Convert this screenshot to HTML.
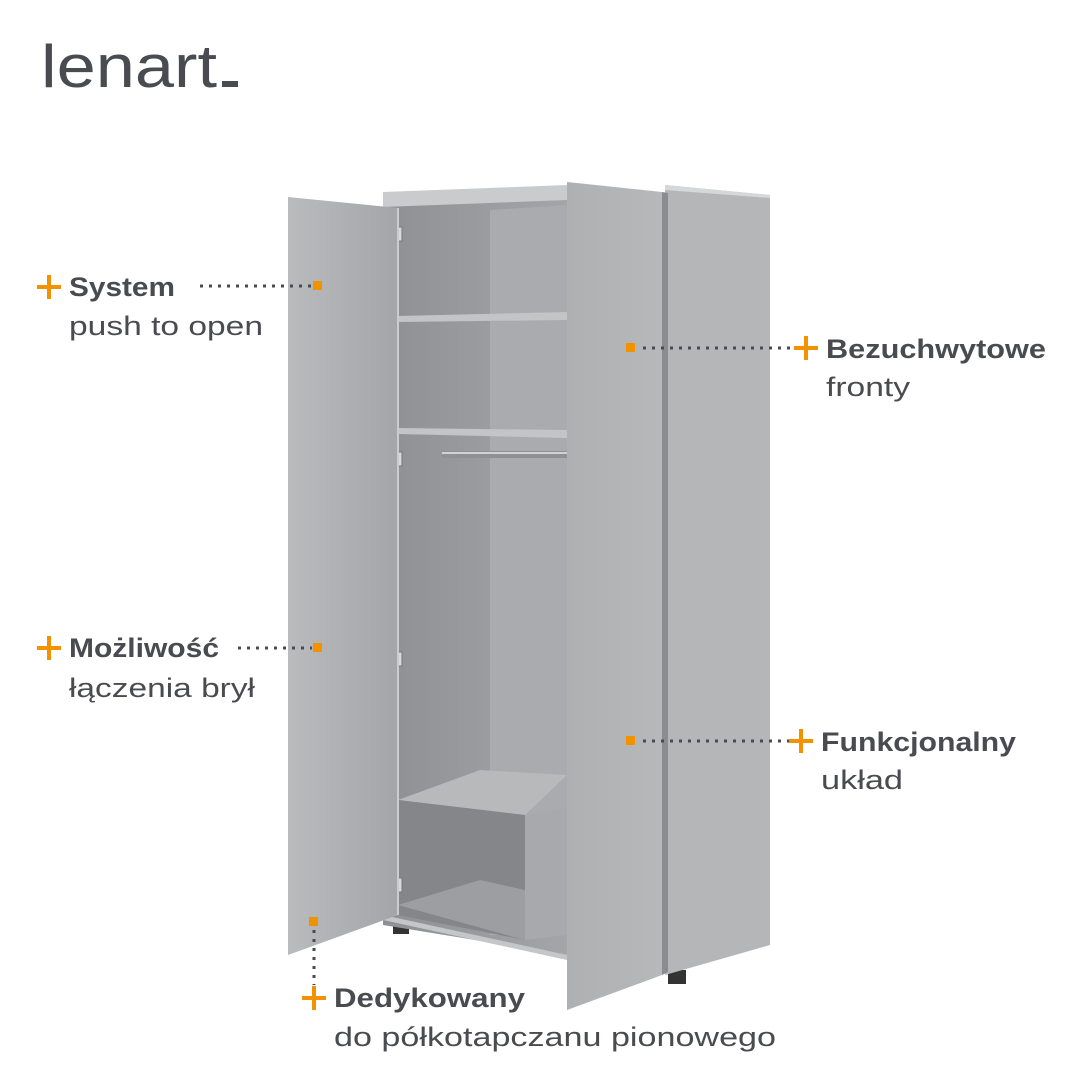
<!DOCTYPE html>
<html><head><meta charset="utf-8"><style>
html,body{margin:0;padding:0;background:#fff}
svg{display:block}
text{font-family:"Liberation Sans",sans-serif;fill:#4a4b50}
.b{font-weight:bold;font-size:27px}
.r{font-size:27px}
</style></head><body>
<svg width="1080" height="1080" viewBox="0 0 1080 1080">
<defs>
<linearGradient id="ld" x1="0" x2="1"><stop offset="0" stop-color="#b9bbbd"/><stop offset="1" stop-color="#a3a5a8"/></linearGradient>
<linearGradient id="rd" x1="0" x2="1"><stop offset="0" stop-color="#aeb0b2"/><stop offset="1" stop-color="#b6b8ba"/></linearGradient>
<linearGradient id="in" x1="0" x2="1"><stop offset="0" stop-color="#8e9093"/><stop offset="1" stop-color="#a3a5a8"/></linearGradient>
</defs>
<!-- logo -->
<text x="41" y="87" textLength="176" lengthAdjust="spacingAndGlyphs" style="font-size:60px;fill:#4a4b50">lenart</text>
<rect x="222" y="81" width="16" height="6" fill="#4a4b50"/>
<!-- feet -->
<rect x="393" y="922" width="16" height="12" fill="#333"/>
<rect x="668" y="970" width="18" height="14" fill="#333"/>
<rect x="748" y="935" width="14" height="12" fill="#333"/>
<!-- carcass interior -->
<polygon points="383,200 567,190 567,955 383,925" fill="url(#in)"/>
<polygon points="490,210 567,205 567,935 490,935" fill="#a9abae"/>
<polygon points="383,192 567,185 567,200 383,207" fill="#c9cbcd"/>
<!-- shelves -->
<polygon points="398,316 567,312 567,320 398,322" fill="#c2c4c6"/>
<polygon points="398,428 567,430 567,438 398,434" fill="#c2c4c6"/>
<rect x="442" y="451" width="125" height="7" fill="#8e9094"/>
<rect x="442" y="452" width="125" height="2" fill="#d0d2d4"/>
<!-- lower box -->
<polygon points="398,800 480,770 567,775 525,815" fill="#b7b9bb"/>
<polygon points="398,800 525,815 525,940 398,915" fill="#848689"/>
<polygon points="398,905 480,880 525,890 525,940" fill="#9c9ea1"/>
<polygon points="525,815 567,808 567,935 525,940" fill="#a7a9ac"/>
<polygon points="383,915 567,955 567,960 383,920" fill="#c4c6c8"/>
<!-- hinges -->
<g fill="#d8d8d8" stroke="#777" stroke-width="1">
<rect x="390" y="227" width="12" height="14"/><rect x="390" y="452" width="12" height="14"/>
<rect x="390" y="652" width="12" height="14"/><rect x="390" y="878" width="12" height="14"/>
</g>
<!-- left door -->
<polygon points="288,197 398,208 398,915 288,955" fill="url(#ld)"/>
<line x1="398" y1="208" x2="398" y2="915" stroke="#ccc" stroke-width="2"/>
<!-- side panel -->
<polygon points="665,185 770,195 770,945 665,975" fill="#b4b6b8"/>
<polygon points="665,185 770,195 770,198 665,190" fill="#d5d7d9"/>
<!-- right door -->
<polygon points="567,182 662,192 662,975 567,1010" fill="url(#rd)"/>
<polygon points="662,192 668,193 668,972 662,975" fill="#8a8c8f"/>
<!-- connectors -->
<g stroke="#4a4b50" stroke-width="3" stroke-dasharray="3,6">
<line x1="200" y1="286" x2="312" y2="286"/>
<line x1="238" y1="648" x2="312" y2="648"/>
<line x1="643" y1="348" x2="795" y2="348"/>
<line x1="643" y1="741" x2="790" y2="741"/>
<line x1="314" y1="930" x2="314" y2="985"/>
</g>
<g fill="#f39200">
<rect x="313" y="281" width="9" height="9"/>
<rect x="313" y="643" width="9" height="9"/>
<rect x="626" y="343" width="9" height="9"/>
<rect x="626" y="736" width="9" height="9"/>
<rect x="309" y="917" width="9" height="9"/>
</g>
<!-- plus signs -->
<g stroke="#f39200" stroke-width="4">
<line x1="37" y1="287" x2="61" y2="287"/><line x1="49" y1="275" x2="49" y2="299"/>
<line x1="37" y1="648" x2="61" y2="648"/><line x1="49" y1="636" x2="49" y2="660"/>
<line x1="794" y1="348" x2="818" y2="348"/><line x1="806" y1="336" x2="806" y2="360"/>
<line x1="789" y1="741" x2="813" y2="741"/><line x1="801" y1="729" x2="801" y2="753"/>
<line x1="302" y1="998" x2="326" y2="998"/><line x1="314" y1="986" x2="314" y2="1010"/>
</g>
<text class="b" x="69" y="296" textLength="106" lengthAdjust="spacingAndGlyphs">System</text>
<text class="r" x="69" y="335" textLength="194" lengthAdjust="spacingAndGlyphs">push to open</text>
<text class="b" x="69" y="657" textLength="150" lengthAdjust="spacingAndGlyphs">Możliwość</text>
<text class="r" x="69" y="697" textLength="186" lengthAdjust="spacingAndGlyphs">łączenia brył</text>
<text class="b" x="826" y="358" textLength="220" lengthAdjust="spacingAndGlyphs">Bezuchwytowe</text>
<text class="r" x="826" y="396" textLength="84" lengthAdjust="spacingAndGlyphs">fronty</text>
<text class="b" x="821" y="751" textLength="195" lengthAdjust="spacingAndGlyphs">Funkcjonalny</text>
<text class="r" x="821" y="789" textLength="82" lengthAdjust="spacingAndGlyphs">układ</text>
<text class="b" x="334" y="1007" textLength="191" lengthAdjust="spacingAndGlyphs">Dedykowany</text>
<text class="r" x="334" y="1046" textLength="442" lengthAdjust="spacingAndGlyphs">do półkotapczanu pionowego</text>
</svg>
</body></html>
